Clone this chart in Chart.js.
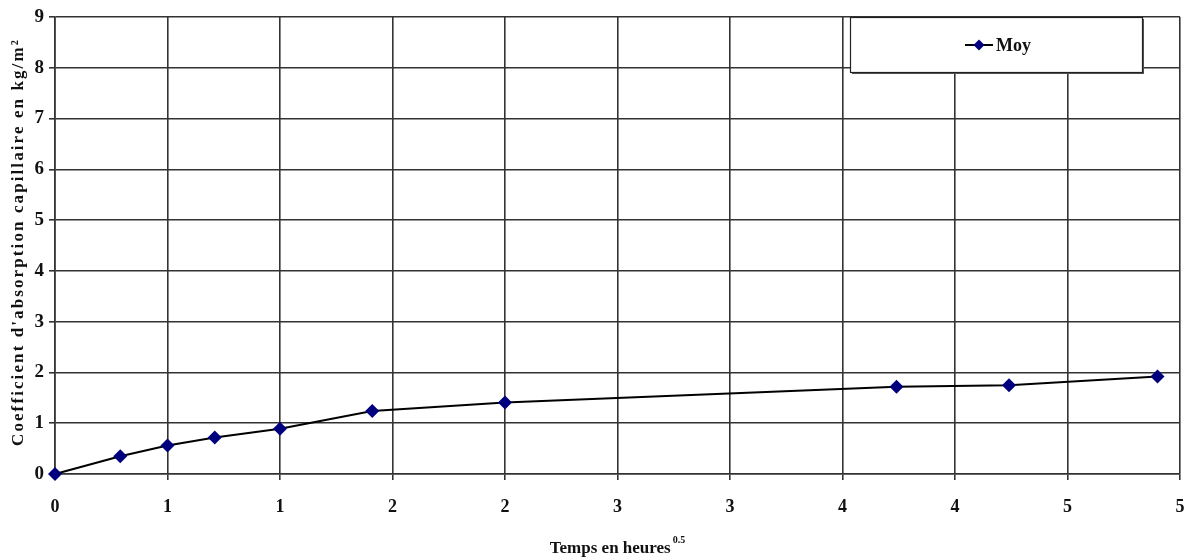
<!DOCTYPE html>
<html>
<head>
<meta charset="utf-8">
<script src="https://cdn.jsdelivr.net/npm/chart.js@4"></script>
<style>
  html, body { margin: 0; padding: 0; background: #fff; }
  #wrap { width: 1199px; height: 560px; position: relative; }
</style>
</head>
<body>
<div id="wrap"><canvas id="c" width="1199" height="560"></canvas></div>
<script>
// Racine carrée du temps (h^0.5) et coefficient moyen d'absorption (kg/m²)
const sqrtTime = [0, 0.29, 0.5, 0.71, 1, 1.41, 2, 3.74, 4.24, 4.9];
const moyValues = [0, 0.35, 0.56, 0.72, 0.89, 1.24, 1.41, 1.72, 1.75, 1.92];
const xTickLabels = ['0', '1', '1', '2', '2', '3', '3', '4', '4', '5', '5'];
const yTickLabels = ['0', '1', '2', '3', '4', '5', '6', '7', '8', '9'];
const seriesName = 'Moy';
const yTitle = "Coefficient d'absorption capillaire en kg/m²";
const xTitle = 'Temps en heures';
const xTitleExp = '0.5';

const FONT = '"Liberation Serif", "Times New Roman", serif';
const INK = '#111';
const GRID = '#333';
const MARK = '#00007f';

// Titres des axes dessinés à la main (exposant, ancrage bas du titre vertical)
const axisTitles = {
  id: 'axisTitles',
  afterDraw(chart) {
    const ctx = chart.ctx;
    const a = chart.chartArea;
    ctx.save();
    ctx.fillStyle = INK;
    // titre vertical, lettres espacées
    ctx.font = 'bold 17px ' + FONT;
    ctx.letterSpacing = '2.1px';
    ctx.translate(19, a.bottom - 28);
    ctx.rotate(-Math.PI / 2);
    ctx.textAlign = 'left';
    ctx.textBaseline = 'middle';
    ctx.fillText(yTitle, 0, 0);
    ctx.restore();

    // titre horizontal avec exposant
    ctx.save();
    ctx.fillStyle = INK;
    ctx.font = 'bold 17px ' + FONT;
    const w1 = ctx.measureText(xTitle).width;
    ctx.font = 'bold 10px ' + FONT;
    const w2 = ctx.measureText(xTitleExp).width;
    const cx = (a.left + a.right) / 2;
    const x0 = cx - (w1 + w2 + 2) / 2;
    ctx.textBaseline = 'alphabetic';
    ctx.textAlign = 'left';
    ctx.font = 'bold 17px ' + FONT;
    ctx.fillText(xTitle, x0, 553);
    ctx.font = 'bold 10px ' + FONT;
    ctx.fillText(xTitleExp, x0 + w1 + 2, 543);
    ctx.restore();
  }
};

// Cadre de légende dans le coin haut droit
const boxLegend = {
  id: 'boxLegend',
  afterDraw(chart) {
    const ctx = chart.ctx;
    const a = chart.chartArea;
    const x = a.right - 330, y = a.top, w = 292, h = 55;
    ctx.save();
    ctx.fillStyle = '#555';
    ctx.fillRect(x + 2, y + 2, w, h);
    ctx.fillStyle = '#fff';
    ctx.fillRect(x, y, w, h);
    ctx.strokeStyle = '#222';
    ctx.lineWidth = 1.2;
    ctx.strokeRect(x + 0.5, y + 0.5, w, h);
    const cy = y + 28;
    const lx = x + 115;
    ctx.strokeStyle = '#000';
    ctx.lineWidth = 2;
    ctx.beginPath();
    ctx.moveTo(lx, cy);
    ctx.lineTo(lx + 28, cy);
    ctx.stroke();
    ctx.fillStyle = MARK;
    ctx.beginPath();
    ctx.moveTo(lx + 14, cy - 5.5);
    ctx.lineTo(lx + 19.5, cy);
    ctx.lineTo(lx + 14, cy + 5.5);
    ctx.lineTo(lx + 8.5, cy);
    ctx.closePath();
    ctx.fill();
    ctx.fillStyle = INK;
    ctx.font = 'bold 18px ' + FONT;
    ctx.textAlign = 'left';
    ctx.textBaseline = 'middle';
    ctx.fillText(chart.data.datasets[0].label, lx + 31, cy + 1);
    ctx.restore();
  }
};

new Chart(document.getElementById('c'), {
  type: 'line',
  data: {
    datasets: [{
      label: seriesName,
      data: sqrtTime.map((t, i) => ({ x: t, y: moyValues[i] })),
      borderColor: '#000',
      borderWidth: 2,
      tension: 0,
      pointStyle: 'rectRot',
      pointRadius: 7,
      pointHoverRadius: 7,
      pointBackgroundColor: MARK,
      pointBorderColor: MARK,
      pointBorderWidth: 0,
      clip: false
    }]
  },
  options: {
    responsive: false,
    animation: false,
    layout: { padding: { top: 17, right: 19, left: 0, bottom: 0 } },
    plugins: { legend: { display: false }, tooltip: { enabled: false } },
    scales: {
      x: {
        type: 'linear',
        min: 0, max: 5,
        ticks: {
          stepSize: 0.5,
          color: INK,
          font: { family: FONT, size: 18, weight: 'bold' },
          padding: 17,
          maxRotation: 0,
          autoSkip: false,
          callback: (v, i) => xTickLabels[i]
        },
        grid: { color: GRID, lineWidth: 1.6, tickLength: 6, drawTicks: true },
        border: { color: GRID, width: 1.6 },
        afterFit: s => { s.height = 86; s.paddingLeft = 0; s.paddingRight = 0; }
      },
      y: {
        min: 0, max: 9,
        ticks: {
          stepSize: 1,
          color: INK,
          font: { family: FONT, size: 19, weight: 'bold' },
          padding: 5,
          callback: (v, i) => yTickLabels[i]
        },
        grid: { color: GRID, lineWidth: 1.6, tickLength: 6 },
        border: { color: GRID, width: 1.6 },
        afterFit: s => { s.width = 55; }
      }
    }
  },
  plugins: [axisTitles, boxLegend]
});
</script>
</body>
</html>
